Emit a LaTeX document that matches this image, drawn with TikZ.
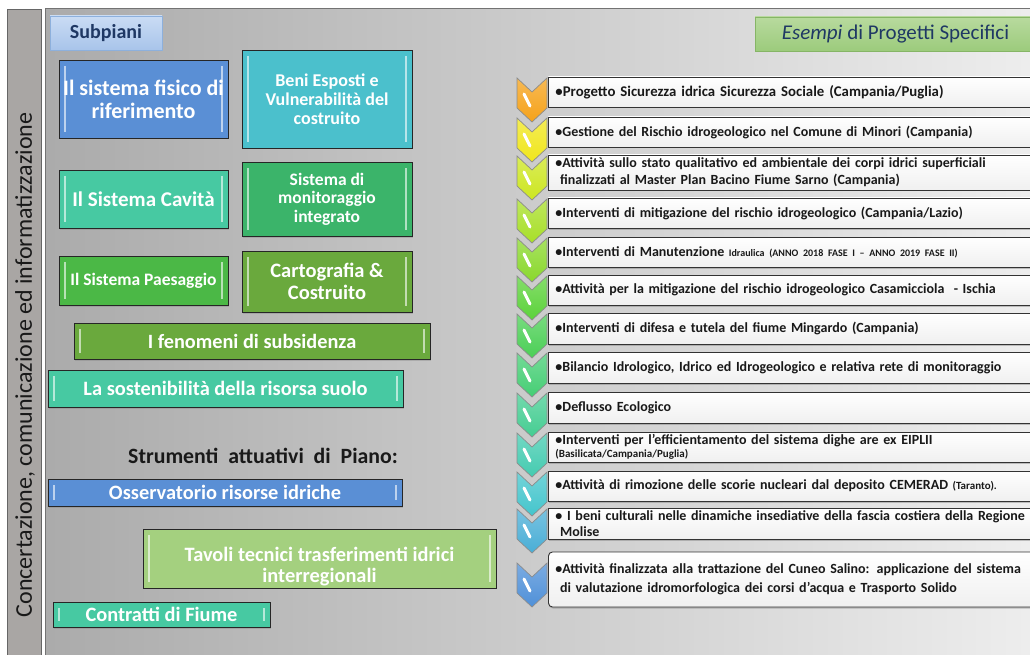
\documentclass[tikz,border=0pt]{standalone}
\usepackage{fontspec}
\setmainfont{Carlito}
\usetikzlibrary{shadows,calc}
\definecolor{barg}{HTML}{A9A6A4}
\definecolor{navy}{HTML}{1F3864}
\definecolor{cblue}{HTML}{5A8FD5}
\definecolor{ccyan}{HTML}{4BC0CC}
\definecolor{cteal}{HTML}{47C9A2}
\definecolor{cgreen}{HTML}{3BB46A}
\definecolor{cgrass}{HTML}{4BB846}
\definecolor{colive}{HTML}{6AA93D}
\definecolor{clight}{HTML}{A4D07F}
\definecolor{subtop}{HTML}{CADCF4}
\definecolor{subbot}{HTML}{A8C4EA}
\definecolor{subdraw}{HTML}{8DB0DC}
\definecolor{estop}{HTML}{B8DA9E}
\definecolor{esbot}{HTML}{9CCB7C}
\definecolor{esdraw}{HTML}{86B566}
\definecolor{ch1}{HTML}{F5A21A}
\definecolor{ch2}{HTML}{F0E61C}
\definecolor{ch3}{HTML}{CDE621}
\definecolor{ch4}{HTML}{A8DF28}
\definecolor{ch5}{HTML}{8AD82C}
\definecolor{ch6}{HTML}{5CD23A}
\definecolor{ch7}{HTML}{4BCF55}
\definecolor{ch8}{HTML}{45CE74}
\definecolor{ch9}{HTML}{45CD92}
\definecolor{ch10}{HTML}{44CBB0}
\definecolor{ch11}{HTML}{44C5CC}
\definecolor{ch12}{HTML}{4AAED6}
\definecolor{ch13}{HTML}{4F90D8}
\newcommand{\fsz}[1]{\fontsize{#1}{#1}\selectfont\baselineskip=1.2\dimexpr#1pt\relax}
\newcommand{\fsc}[1]{\fontsize{#1}{#1}\selectfont\baselineskip=1.05\dimexpr#1pt\relax}
\tikzset{
  lbox/.style={draw=black!85, line width=0.8pt, text=white, font=\bfseries, align=center,
    inner sep=2pt, drop shadow={shadow xshift=1pt, shadow yshift=-1.5pt, opacity=0.35},
    path picture={
      \draw[white, opacity=0.6, line width=1.6pt]
        ([xshift=6pt,yshift=-6pt]path picture bounding box.north west) --
        ([xshift=6pt,yshift=6pt]path picture bounding box.south west);
      \draw[white, opacity=0.6, line width=1.6pt]
        ([xshift=-6pt,yshift=-6pt]path picture bounding box.north east) --
        ([xshift=-6pt,yshift=6pt]path picture bounding box.south east);
    }},
  rbox/.style={draw=black!80, line width=0.9pt, top color=white, bottom color=black!6,
    anchor=west, text width=476pt, inner xsep=7pt, inner ysep=0pt, align=left,
    font=\bfseries\fsz{14}, text=black!90,
    drop shadow={shadow xshift=0.5pt, shadow yshift=-1.5pt, opacity=0.45}},
  chev/.style={draw=black!45, line width=0.7pt},
  streak/.style={draw=white, line width=3pt, line cap=round},
}
\begin{document}
\begin{tikzpicture}[x=1pt,y=-1pt]
\useasboundingbox (0,0) rectangle (1030,655);
\fill[white] (0,0) rectangle (1030,655);
% left bar
\fill[barg] (7,9) rectangle (41,655);
\draw[black!60, line width=0.8pt] (7,655) -- (7,9) -- (41,9) -- (41,655);
% main panel
\shade[left color=black!33, middle color=black!14, right color=black!7] (45,9) rectangle (1030,655);
\draw[black!55, line width=1pt] (45,655) -- (45,9) -- (1030,9);
\node[rotate=90, font=\fsz{24}, text=black!90] (side) at (25,365) {Concertazione, comunicazione ed informatizzazione};

% Subpiani header
\node[draw=subdraw, line width=0.8pt, top color=subtop, bottom color=subbot,
  minimum width=112pt, minimum height=34pt, font=\bfseries\fsz{20}, text=navy] (subp) at (106,33) {Subpiani};

% left boxes
\node[lbox, fill=cblue, minimum width=169pt, minimum height=78pt, font=\bfseries\fsc{22}] (b1) at (143.5,99) {Il sistema fisico di\\riferimento};
\node[lbox, fill=ccyan, minimum width=170pt, minimum height=98pt, font=\bfseries\fsc{18}] (b2) at (327,99) {Beni Esposti e\\Vulnerabilità del\\costruito};
\node[lbox, fill=cteal, minimum width=169pt, minimum height=58pt, font=\bfseries\fsc{21}] (b3) at (143.5,199) {Il Sistema Cavità};
\node[lbox, fill=cgreen, minimum width=170pt, minimum height=74pt, font=\bfseries\fsc{17.5}] (b4) at (327,199) {Sistema di\\monitoraggio\\integrato};
\node[lbox, fill=cgrass, minimum width=169pt, minimum height=49pt, font=\bfseries\fsc{17.5}] (b5) at (143.5,280.5) {Il Sistema Paesaggio};
\node[lbox, fill=colive, minimum width=170pt, minimum height=61pt, font=\bfseries\fsc{20.5}] (b6) at (327,281.5) {Cartografia \&\\Costruito};
\node[lbox, fill=colive, minimum width=356pt, minimum height=36pt, font=\bfseries\fsc{20.3}] (b7) at (252,341) {I fenomeni di subsidenza};
\node[lbox, fill=cteal, minimum width=355pt, minimum height=37pt, font=\bfseries\fsc{20.4}] (b8) at (225.5,388.5) {La sostenibilità della risorsa suolo};

\node[font=\bfseries\fsz{21.8}, text=black!90] (strum) at (263,456) {Strumenti\ \ attuativi\ \ di\ \ Piano:};

\node[lbox, fill=cblue, minimum width=354pt, minimum height=27pt, font=\bfseries\fsc{20.4}] (b9) at (225,492.5) {Osservatorio risorse idriche};
\node[lbox, fill=clight, minimum width=353pt, minimum height=53pt, font=\bfseries\fsc{20.4}] (b10) at (319.5,558.5) {\rule{0pt}{30pt}Tavoli tecnici trasferimenti idrici\\interregionali};
\node[lbox, fill=cteal, minimum width=217pt, minimum height=25pt, font=\bfseries\fsc{20.4}] (b11) at (161.5,614.5) {Contratti di Fiume};

% Esempi header
\node[draw=esdraw, line width=0.8pt, top color=estop, bottom color=esbot,
  minimum width=281pt, minimum height=34pt, font=\fsz{21}, text=navy] (esem) at (895.5,34) {\textit{Esempi} di Progetti Specifici};

% chevrons
\foreach \t/\c in {78/ch1,118/ch2,156/ch3,199/ch4,238/ch5,276/ch6,314/ch7,353/ch8,393/ch9,433/ch10,472/ch11,509/ch12,563/ch13} {
  \shade[chev, top color=\c!75!white, bottom color=\c] (517,\t) -- (532,\t+14) -- (547,\t) -- (547,\t+30) -- (532,\t+44) -- (517,\t+30) -- cycle;
  \path[streak] (524,\t+16) -- (530,\t+28);
}

% right list
\node[rbox, minimum height=30pt, font=\bfseries\fsz{14.8}] (r1) at (548,92) {•Progetto Sicurezza idrica Sicurezza Sociale (Campania/Puglia)};
\node[rbox, minimum height=30pt] (r2) at (548,132) {•Gestione del Rischio idrogeologico nel Comune di Minori (Campania)};
\node[rbox, minimum height=35pt] (r3) at (548,172.5) {•Attività sullo stato qualitativo ed ambientale dei corpi idrici superficiali\\\ finalizzati al Master Plan Bacino Fiume Sarno (Campania)};
\node[rbox, minimum height=30pt] (r4) at (548,213) {•Interventi di mitigazione del rischio idrogeologico (Campania/Lazio)};
\node[rbox, minimum height=30pt] (r5) at (548,252) {•Interventi di Manutenzione {\fsz{10}Idraulica (ANNO 2018 FASE I – ANNO 2019 FASE II)}};
\node[rbox, minimum height=30pt] (r6) at (548,290) {•Attività per la mitigazione del rischio idrogeologico Casamicciola\ \ - Ischia};
\node[rbox, minimum height=31pt] (r7) at (548,328.5) {•Interventi di difesa e tutela del fiume Mingardo (Campania)};
\node[rbox, minimum height=31pt] (r8) at (548,367.5) {•Bilancio Idrologico, Idrico ed Idrogeologico e relativa rete di monitoraggio};
\node[rbox, minimum height=31pt] (r9) at (548,407.5) {•Deflusso Ecologico};
\node[rbox, minimum height=30pt] (r10) at (548,447) {•Interventi per l’efficientamento del sistema dighe are ex EIPLII\\[-4pt]{\fsz{11}(Basilicata/Campania/Puglia)}};
\node[rbox, minimum height=30pt] (r11) at (548,486) {•Attività di rimozione delle scorie nucleari dal deposito CEMERAD\ {\fsz{11}(Taranto).}};
\node[rbox, minimum height=31pt] (r12) at (548,523.5) {• I beni culturali nelle dinamiche insediative della fascia costiera della Regione\\[-1pt]\ Molise};
\node[rbox, rounded corners=4pt, minimum height=55pt] (r13) at (548,579.5) {•Attività finalizzata alla trattazione del Cuneo Salino: applicazione del sistema\\[2pt]\ di valutazione idromorfologica dei corsi d’acqua e Trasporto Solido};
\end{tikzpicture}
\end{document}
